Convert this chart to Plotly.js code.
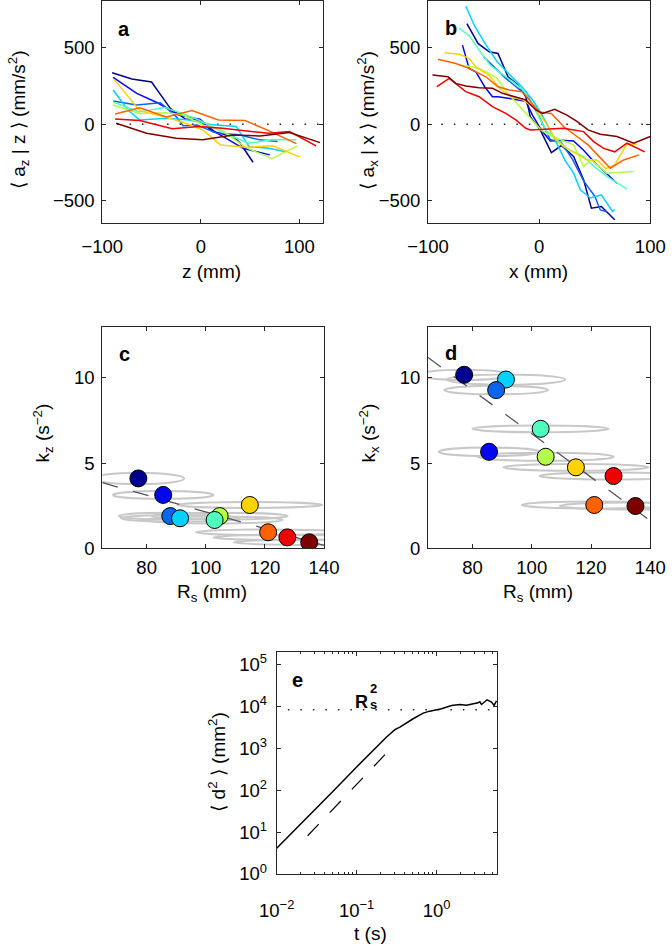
<!DOCTYPE html>
<html><head><meta charset="utf-8">
<script src="https://cdn.plot.ly/plotly-3.0.1.min.js"></script>
<style>html,body{margin:0;padding:0;background:#fff}</style>
</head><body><div id="chart" style="width:672px;height:947px"></div>
<script>
// ---------- colours of the 10 datasets (ordered by R_s) ----------
const seriesColors = ['#00008f','#0505ee','#0a64f0','#00d2ff','#50ffbe','#b4ff46','#ffd200','#ff6000','#f00000','#7d0000'];

// ---------- panel a : <a_z | z> ----------
const panelA_z = [
  [-90,-70,-50,-31,-16,-2,12,33,40,53],
  [-89,-65,-43,-23,-1,14,43,70],
  [-89,-65,-41,-25,-18,-4,16,39,60,78],
  [-89,-74,-62,-35,-12,12,36,49,69,86],
  [-89,-63,-37,-21,-2,21,48,72,97],
  [-89,-62,-35,-18,2,21,45,72,98],
  [-88,-62,-35,-15,2,20,46,73,101],
  [-87,-62,-35,-9,18,45,67,97],
  [-87,-62,-29,-2,22,46,69,90,117],
  [-86,-55,-25,2,33,60,90,121]
];
const panelA_a = [
  [336,295,276,104,35,28,-48,-80,-124,-248],
  [306,202,137,61,33,-48,-157,-200],
  [152,126,141,50,-10,-5,-58,-69,-102,-113],
  [224,93,28,39,28,-4,-15,-146,-157,-179],
  [146,80,110,75,28,-48,-124,-102,-102],
  [126,71,75,60,-5,-37,-150,-225,-141],
  [293,89,45,6,-37,-135,-150,-141,-215],
  [67,108,48,90,28,24,-37,-127],
  [35,24,-30,-15,-26,-43,-59,-48,-141],
  [7,-59,-91,-102,-70,-76,-54,-120]
];
const zeroLineA_z = [-85, 124];

// ---------- panel b : <a_x | x> ----------
const panelB_x = [
  [-65,-55,-45,-37,-28,-19,-12,-8,1,11,20,31,40,47,56,68],
  [-69,-63,-57,-49,-42,-37,-28,-19,-12,-6,2,10,20,31,40,50,60,70],
  [-50,-40,-30,-20,-10,0,10,20,30,40,50,55,61],
  [-66,-58,-48,-38,-26,-15,-5,5,15,23,31,37,46,56,66,68],
  [-72,-63,-54,-44,-34,-24,-14,-4,6,16,27,40,50,61,70,79],
  [-72,-60,-48,-38,-28,-18,-8,2,12,22,31,40,47,61,74,85],
  [-85,-72,-63,-57,-45,-35,-25,-15,-5,5,15,22,33,43,52,60,68,79,88],
  [-91,-75,-63,-48,-37,-27,-15,-9,0,11,22,34,44,64,76,90],
  [-92,-81,-66,-54,-42,-30,-21,-12,-8,7,22,40,49,58,68,79,95],
  [-96,-82,-75,-66,-54,-42,-33,-21,-12,-3,3,14,25,34,44,55,70,85,100]
];
const panelB_a = [
  [658,528,473,462,310,256,180,50,-37,-185,-139,-211,-363,-548,-537,-624],
  [517,365,343,245,180,180,170,158,150,60,-38,-109,-105,-109,-170,-250,-320,-385],
  [440,370,300,240,180,50,-100,-120,-230,-370,-470,-560,-572],
  [771,640,520,410,320,240,150,30,-110,-233,-319,-428,-482,-461,-569,-558],
  [626,580,484,386,330,280,220,100,-40,-100,-168,-211,-280,-341,-385,-424],
  [387,375,345,300,200,120,40,-40,-80,-110,-135,-276,-233,-320,-315,-309],
  [467,458,430,376,320,230,180,160,110,20,-100,-146,-190,-233,-233,-290,-265,-128,-130],
  [424,397,365,310,245,224,213,158,80,71,-15,-80,-135,-287,-233,-200],
  [245,299,213,180,115,71,28,-26,-37,-33,-26,-48,-113,-158,-180,-124,-180],
  [321,311,267,250,239,235,202,180,159,93,71,97,60,18,-37,-65,-80,-124,-80]
];
const zeroLineB_x = [-88, 100];

// ---------- panels c, d : stiffness vs R_s ----------
const Rs     = [77.2, 85.6, 88.0, 91.3, 103.0, 104.7, 114.9, 121.1, 127.6, 135.0];
const RsErr  = [15.5, 17, 17.5, 20, 23, 23, 24.5, 24.5, 25, 25.5];
const kz     = [4.10, 3.13, 1.89, 1.76, 1.66, 1.89, 2.54, 0.94, 0.64, 0.35];
const kzErr  = [0.33, 0.23, 0.2, 0.2, 0.2, 0.2, 0.17, 0.17, 0.15, 0.15];
const kx     = [10.18, 5.66, 9.28, 9.90, 7.01, 5.37, 4.75, 2.54, 4.24, 2.48];
const kxErr  = [0.3, 0.25, 0.25, 0.3, 0.2, 0.24, 0.2, 0.2, 0.2, 0.2];
const drawOrderC = [0,1,2,3,5,4,6,7,8,9];
const drawOrderD = [0,1,3,2,4,5,6,7,8,9];
const fitC_R = [65, 140];
const fitC_k = [3.85, 0.17];
const fitD_R = [65, 140];
const fitD_k = [11.19, 1.62];

// ---------- panel e : mean square displacement ----------
const msdT = [0.01,0.0287,0.05,0.1,0.15,0.237,0.301,0.348,0.51,0.68,0.82,1.155,1.54,1.96,2.37,3.01,3.3,3.48,3.65,4.29,4.87,5.25,5.62];
const msdD = [4.1,30.5,92,360,800,1860,2790,3220,5090,6920,7730,8810,10570,11160,10740,11600,12200,12900,11160,14430,12700,10570,13650];
const slopeT = [0.0244, 0.242];
const slopeD = [8.2, 806];
const rs2T = [0.0138, 5.75];
const rs2D = [8300, 8300];
const eTickVals = [0.01, 0.1, 1];
const eTickText = ['10<sup>\u22122</sup>','10<sup>\u22121</sup>','10<sup>0</sup>'];
const eYTickVals = [1, 10, 100, 1000, 10000, 100000];
const eYTickText = ['10<sup>0</sup>','10<sup>1</sup>','10<sup>2</sup>','10<sup>3</sup>','10<sup>4</sup>','10<sup>5</sup>'];

// ---------- build ----------
const FONT = 'Liberation Sans, Arial, Helvetica, sans-serif';
const TICK = 18.5, TITLE = 19;
const traces = [];
const dotted = {color:'#222', width:1.5, dash:'1.5px,11px'};

traces.push({x: zeroLineA_z, y:[0,0], xaxis:'x', yaxis:'y', mode:'lines', line:dotted, hoverinfo:'skip'});
panelA_z.forEach((zs,i)=>traces.push({x:zs, y:panelA_a[i], xaxis:'x', yaxis:'y', mode:'lines',
  line:{color:seriesColors[i], width:1.5}}));

traces.push({x: zeroLineB_x, y:[0,0], xaxis:'x2', yaxis:'y2', mode:'lines', line:dotted, hoverinfo:'skip'});
panelB_x.forEach((xs,i)=>traces.push({x:xs, y:panelB_a[i], xaxis:'x2', yaxis:'y2', mode:'lines',
  line:{color:seriesColors[i], width:1.5}}));

const fitLine = {color:'#555', width:1.3, dash:'16px,16px'};
traces.push({x:fitC_R, y:fitC_k, xaxis:'x3', yaxis:'y3', mode:'lines', line:fitLine});
traces.push({x:drawOrderC.map(i=>Rs[i]), y:drawOrderC.map(i=>kz[i]), xaxis:'x3', yaxis:'y3', mode:'markers',
  marker:{size:17, color:drawOrderC.map(i=>seriesColors[i]), line:{color:'#000', width:1}}});
traces.push({x:fitD_R, y:fitD_k, xaxis:'x4', yaxis:'y4', mode:'lines', line:fitLine});
traces.push({x:drawOrderD.map(i=>Rs[i]), y:drawOrderD.map(i=>kx[i]), xaxis:'x4', yaxis:'y4', mode:'markers',
  marker:{size:17, color:drawOrderD.map(i=>seriesColors[i]), line:{color:'#000', width:1}}});

traces.push({x:rs2T, y:rs2D, xaxis:'x5', yaxis:'y5', mode:'lines', line:dotted});
traces.push({x:slopeT, y:slopeD, xaxis:'x5', yaxis:'y5', mode:'lines', line:{color:'#000', width:1.2, dash:'16px,16px'}});
traces.push({x:msdT, y:msdD, xaxis:'x5', yaxis:'y5', mode:'lines', line:{color:'#000', width:1.5}});

const shapes = [];
Rs.forEach((r,i)=>{
  shapes.push({type:'circle', xref:'x3', yref:'y3', x0:r-RsErr[i], x1:r+RsErr[i], y0:kz[i]-kzErr[i], y1:kz[i]+kzErr[i],
    line:{color:'#c8c8c8', width:2}, layer:'below'});
  shapes.push({type:'circle', xref:'x4', yref:'y4', x0:r-RsErr[i], x1:r+RsErr[i], y0:kx[i]-kxErr[i], y1:kx[i]+kxErr[i],
    line:{color:'#c8c8c8', width:2}, layer:'below'});
});

const W = 672, H = 947;
const px = v => v / W, py = v => 1 - v / H;
function ax(extra){
  return Object.assign({showline:true, linecolor:'#262626', linewidth:1, mirror:'ticks', ticks:'inside',
    ticklen:4, tickwidth:1, tickcolor:'#262626', showgrid:false, zeroline:false,
    tickfont:{family:FONT, size:TICK, color:'#000'}, fixedrange:true}, extra);
}
const ann = (x,y,text,size,angle,bold) => ({xref:'paper', yref:'paper', x:px(x), y:py(y), xanchor:'center', yanchor:'middle',
  text: bold ? '<b>'+text+'</b>' : text, showarrow:false, textangle:angle||0, font:{family:FONT, size:size, color:'#000'}});

const layout = {
  width:W, height:H, margin:{l:0,r:0,t:0,b:0}, paper_bgcolor:'#fff', plot_bgcolor:'#fff', showlegend:false,
  xaxis: ax({domain:[px(102.3),px(323)], anchor:'y', range:[-100,124], tickvals:[-100,0,100], ticklabelstandoff:7}),
  yaxis: ax({domain:[py(223),py(1)], anchor:'x', range:[-645,805], tickvals:[-500,0,500], ticklabelstandoff:3}),
  xaxis2: ax({domain:[px(428),px(650.3)], anchor:'y2', range:[-100,100], tickvals:[-100,0,100], ticklabelstandoff:7}),
  yaxis2: ax({domain:[py(223),py(1)], anchor:'x2', range:[-645,805], tickvals:[-500,0,500], ticklabelstandoff:3}),
  xaxis3: ax({domain:[px(102.3),px(324)], anchor:'y3', range:[65,140], tickvals:[80,100,120,140], ticklabelstandoff:2}),
  yaxis3: ax({domain:[py(548.3),py(326.7)], anchor:'x3', range:[0,13], tickvals:[0,5,10], ticklabelstandoff:3}),
  xaxis4: ax({domain:[px(428),px(650.3)], anchor:'y4', range:[65,140], tickvals:[80,100,120,140], ticklabelstandoff:2}),
  yaxis4: ax({domain:[py(548.3),py(326.7)], anchor:'x4', range:[0,13], tickvals:[0,5,10], ticklabelstandoff:3}),
  xaxis5: ax({domain:[px(276.7),px(497.3)], anchor:'y5', type:'log', range:[-2,0.76], tickvals:eTickVals, ticktext:eTickText,
    ticklabelstandoff:20, minor:{ticks:'inside', ticklen:2, tickcolor:'#262626', dtick:'D1', showgrid:false}}),
  yaxis5: ax({domain:[py(874),py(652)], anchor:'x5', type:'log', range:[0,5.3], tickvals:eYTickVals, ticktext:eYTickText,
    ticklabelstandoff:5}),
  shapes: shapes,
  annotations: [
    ann(124,29,'a',20,0,true), ann(451,28,'b',20,0,true), ann(124,354,'c',20,0,true), ann(451,353,'d',20,0,true),
    ann(297,680,'e',20,0,true),
    ann(361,702,'R',18,0,true), ann(373,688.5,'2',13,0,true), ann(373,704.5,'s',13,0,true),
    ann(18,120,'\u27e8 a<sub>z</sub> | z \u27e9 (mm/s<sup>2</sup>)',TITLE,-90),
    ann(366.7,120,'\u27e8 a<sub>x</sub> | x \u27e9 (mm/s<sup>2</sup>)',TITLE,-90),
    ann(211,272,'z (mm)',TITLE), ann(538.3,272,'x (mm)',TITLE),
    ann(42.5,433,'k<sub>z</sub> (s<sup>\u22122</sup>)',TITLE,-90),
    ann(368.5,433,'k<sub>x</sub> (s<sup>\u22122</sup>)',TITLE,-90),
    ann(212,593,'R<sub>s</sub> (mm)',TITLE), ann(538,593,'R<sub>s</sub> (mm)',TITLE),
    ann(216.7,762,'\u27e8 d<sup>2</sup> \u27e9 (mm<sup>2</sup>)',TITLE,-90),
    ann(370.7,933,'t (s)',TITLE)
  ]
};
Plotly.newPlot('chart', traces, layout, {staticPlot:true, displayModeBar:false});
</script></body></html>
